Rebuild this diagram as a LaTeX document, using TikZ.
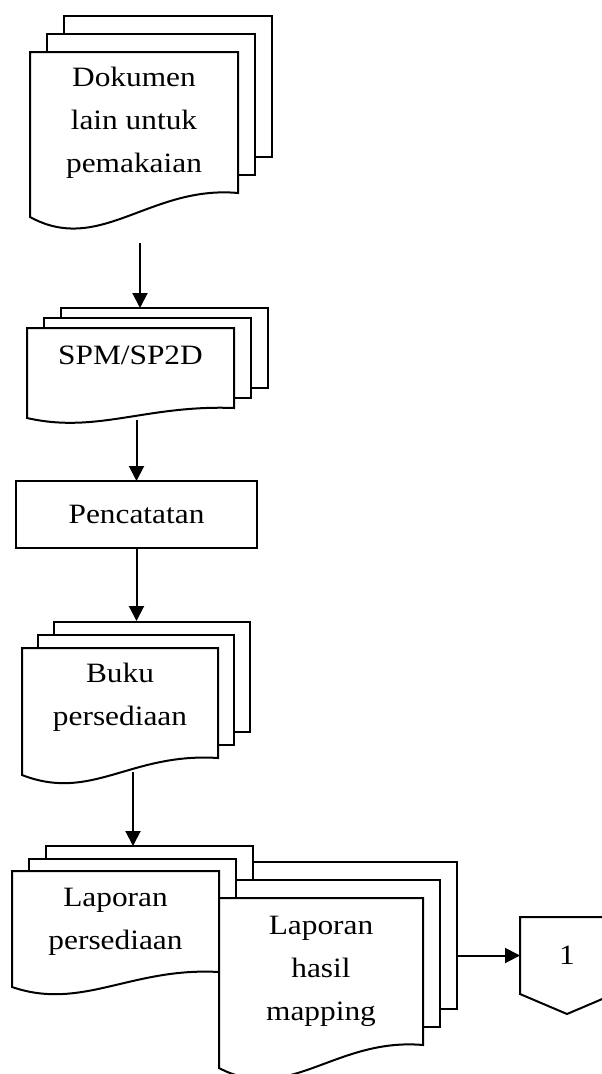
\documentclass[tikz,border=0pt]{standalone}
\usepackage{fontspec}
\setmainfont[FakeStretch=1.12]{Liberation Serif}
\usetikzlibrary{arrows.meta,positioning,calc,backgrounds}

\tikzset{
  txt/.style={font=\fontsize{28pt}{43pt}\selectfont, align=center},
  docnode/.style={txt, draw=none, inner sep=0pt, outer sep=0pt},
  sheet/.style={draw, fill=white, line width=2pt},
  procbox/.style={txt, draw, line width=2pt, minimum width=241pt, minimum height=67pt, inner sep=0pt, outer sep=0pt},
  flowline/.style={line width=2pt, -{Triangle[length=15pt,width=15pt]}}
}

% two back sheets + front sheet with wavy bottom, behind a document node
\newcommand{\docsheets}[4]{%
  \foreach \n in {2,1}
    \draw[sheet] ($(#1.north west)+(\n*#2,-\n*#3)$) rectangle ($(#1.south east)+(\n*#2,-\n*#3)$);
  \draw[sheet] (#1.south east) -- (#1.north east) -- (#1.north west)
    -- ($(#1.south west)+(0,#4)$) .. controls +(70,1.6*#4) and +(-88,-#4/3) .. (#1.south east) -- cycle;
}

\begin{document}
\begin{tikzpicture}[x=1pt,y=-1pt]
  \clip (0,0) rectangle (602,1074);

  \node[docnode, minimum width=208pt, minimum height=141pt] (dok) at (134,122.5) {Dokumen\\lain untuk\\pemakaian};
  \node[docnode, minimum width=207pt, minimum height=80pt, text depth=26pt] (spm) at (130.5,368) {SPM/SP2D};
  \node[procbox] (pen) at (136.5,514.5) {Pencatatan};
  \node[docnode, minimum width=196pt, minimum height=110pt, text depth=17pt] (buku) at (120,703) {Buku\\persediaan};
  \node[docnode, minimum width=207pt, minimum height=101pt] (lap) at (115.5,921.5) {Laporan\\persediaan};
  \node[docnode, minimum width=204pt, minimum height=147pt] (map) at (321,971.5) {Laporan\\hasil\\mapping};
  \node[docnode, minimum width=94pt, minimum height=77pt] (conn) at (567,955.5) {1};

  \begin{scope}[on background layer]
    \docsheets{dok}{17}{18}{24}
    \docsheets{spm}{17}{10}{10}
    \docsheets{buku}{16}{13}{17}
    \docsheets{lap}{17}{12.5}{15}
    \docsheets{map}{17}{18}{23}
    % off-page connector
    \draw[sheet] (conn.north west) -- (conn.north east) -- (conn.south east)
      -- ($(conn.south)+(0,20)$) -- (conn.south west) -- cycle;
  \end{scope}

  \draw[flowline] ($(dok.south)+(6,50)$) -- ($(spm.north)+(9.5,-20)$);
  \draw[flowline] ($(spm.south -| pen.north)+(0,12)$) -- (pen.north);
  \draw[flowline] (pen.south) -- ($(buku.north -| pen.south)+(0,-27)$);
  \draw[flowline] ($(buku.south)+(13,14)$) -- ($(lap.north)+(17.5,-25)$);
  \draw[flowline] ($(map.east |- conn.west)+(34,0)$) -- (conn.west);
\end{tikzpicture}
\end{document}
